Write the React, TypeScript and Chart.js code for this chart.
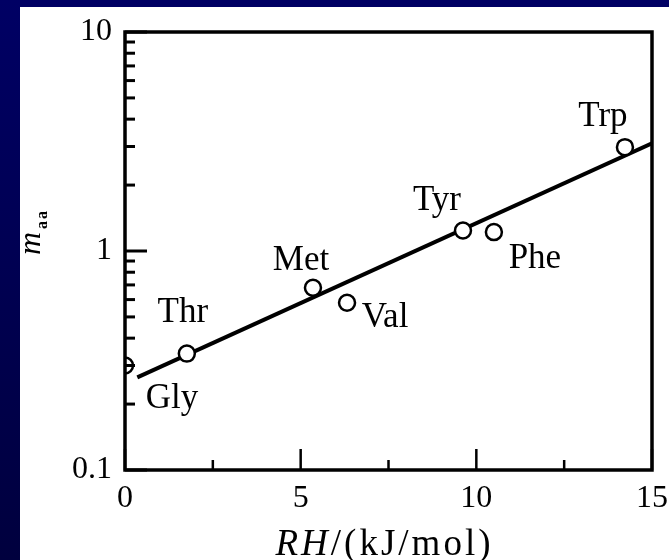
import React, { useEffect, useRef } from 'react';
import { Chart, registerables } from 'chart.js';

Chart.register(...registerables);

// ---- data ----
const aminoAcids = ['Gly', 'Thr', 'Met', 'Val', 'Tyr', 'Phe', 'Trp'];
const rhValues = [0, 1.76, 5.35, 6.32, 9.62, 10.5, 14.23];
const mValues = [0.3, 0.34, 0.68, 0.58, 1.24, 1.22, 2.98];
const fitRh = [0.35, 15];
const fitM = [0.265, 3.1];
const xMajorTicks = [0, 5, 10, 15];
const xMinorTicks = [2.5, 7.5, 12.5];
const yMajorTicks = [0.1, 1, 10];
const yMinorTicks = [0.2, 0.3, 0.4, 0.5, 0.6, 0.7, 0.8, 0.9, 2, 3, 4, 5, 6, 7, 8, 9];
const yTickLabels = ['0.1', '1', '10'];

// ---- styles ----
const labelOffsets = [
  [47, 33],
  [-4, -41],
  [-12, -27],
  [38, 15],
  [-26, -30],
  [41, 27],
  [-22, -30],
];
const SERIF = '"Liberation Serif", "DejaVu Serif", serif';

const decorPlugin = {
  id: 'decor',
  afterDatasetsDraw(chart: any) {
    const { ctx, chartArea: a, scales } = chart;
    const xs = scales.x;
    const ys = scales.y;
    ctx.save();
    ctx.strokeStyle = '#000';
    ctx.lineCap = 'butt';
    // inner ticks
    ctx.lineWidth = 3;
    yMinorTicks.forEach((v) => {
      const py = ys.getPixelForValue(v);
      ctx.beginPath();
      ctx.moveTo(a.left, py);
      ctx.lineTo(a.left + 10, py);
      ctx.stroke();
    });
    yMajorTicks.forEach((v) => {
      const py = ys.getPixelForValue(v);
      ctx.beginPath();
      ctx.moveTo(a.left, py);
      ctx.lineTo(a.left + 22, py);
      ctx.stroke();
    });
    ctx.lineWidth = 2.5;
    xMinorTicks.forEach((v) => {
      const px = xs.getPixelForValue(v);
      ctx.beginPath();
      ctx.moveTo(px, a.bottom);
      ctx.lineTo(px, a.bottom - 10);
      ctx.stroke();
    });
    xMajorTicks.forEach((v) => {
      const px = xs.getPixelForValue(v);
      ctx.beginPath();
      ctx.moveTo(px, a.bottom);
      ctx.lineTo(px, a.bottom - 21);
      ctx.stroke();
    });
    // frame
    ctx.lineWidth = 3.5;
    ctx.strokeRect(a.left, a.top, a.right - a.left, a.bottom - a.top);

    // point labels
    ctx.fillStyle = '#000';
    ctx.font = `35px ${SERIF}`;
    ctx.textAlign = 'center';
    ctx.textBaseline = 'middle';
    const meta = chart.getDatasetMeta(0);
    meta.data.forEach((el: any, i: number) => {
      const [dx, dy] = labelOffsets[i];
      ctx.fillText(aminoAcids[i], el.x + dx, el.y + dy);
    });

    // x axis title: RH/(kJ/mol)
    ctx.textBaseline = 'middle';
    ctx.textAlign = 'left';
    (ctx as any).letterSpacing = '3px';
    const part1 = 'RH';
    const part2 = '/(kJ/mol)';
    ctx.font = `italic 37px ${SERIF}`;
    const w1 = ctx.measureText(part1).width;
    ctx.font = `37px ${SERIF}`;
    const w2 = ctx.measureText(part2).width;
    const cx = (a.left + a.right) / 2 - 4;
    const startX = cx - (w1 + w2) / 2;
    const ty = 538;
    ctx.font = `italic 37px ${SERIF}`;
    ctx.fillText(part1, startX, ty);
    ctx.font = `37px ${SERIF}`;
    ctx.fillText(part2, startX + w1, ty);
    (ctx as any).letterSpacing = '0px';

    // y axis title: m_aa (rotated)
    ctx.save();
    ctx.translate(20, 248);
    ctx.rotate(-Math.PI / 2);
    ctx.textBaseline = 'alphabetic';
    ctx.textAlign = 'left';
    ctx.font = `italic 32px ${SERIF}`;
    ctx.fillText('m', 0, 0);
    const mw = ctx.measureText('m').width;
    ctx.font = `bold 16px ${SERIF}`;
    (ctx as any).letterSpacing = '2px';
    ctx.fillText('aa', mw + 3, 7);
    (ctx as any).letterSpacing = '0px';
    ctx.restore();

    ctx.restore();
  },
};

export default function App() {
  const canvasRef = useRef<HTMLCanvasElement | null>(null);

  useEffect(() => {
    if (!canvasRef.current) return;
    const points = rhValues.map((x, i) => ({ x, y: mValues[i] }));
    const fit = fitRh.map((x, i) => ({ x, y: fitM[i] }));
    const chart = new Chart(canvasRef.current, {
      type: 'scatter',
      data: {
        datasets: [
          {
            data: points,
            showLine: false,
            pointRadius: 8,
            pointBorderWidth: 2.5,
            pointBackgroundColor: '#fff',
            pointBorderColor: '#000',
            clip: 0,
          } as any,
          {
            data: fit,
            showLine: true,
            pointRadius: 0,
            borderWidth: 4,
            borderColor: '#000',
            fill: false,
          } as any,
        ],
      },
      options: {
        animation: false,
        responsive: false,
        devicePixelRatio: 1,
        layout: { padding: { left: 0, top: 25, right: 17, bottom: 0 } },
        plugins: {
          legend: { display: false },
          tooltip: { enabled: false },
          title: { display: false },
        },
        scales: {
          x: {
            type: 'linear',
            min: 0,
            max: 15,
            grid: { display: false },
            border: { display: false },
            afterBuildTicks: (scale: any) => {
              scale.ticks = xMajorTicks.map((v) => ({ value: v }));
            },
            afterFit: (scale: any) => {
              scale.height = 90;
            },
            ticks: {
              color: '#000',
              padding: 1,
              maxRotation: 0,
              font: { family: SERIF, size: 32 },
              callback: (v: any) => String(v),
            },
          },
          y: {
            type: 'logarithmic',
            min: 0.1,
            max: 10,
            grid: { display: false },
            border: { display: false },
            afterBuildTicks: (scale: any) => {
              scale.ticks = yMajorTicks.map((v) => ({ value: v }));
            },
            afterFit: (scale: any) => {
              scale.width = 105;
            },
            ticks: {
              color: '#000',
              padding: 5,
              autoSkip: false,
              font: { family: SERIF, size: 32 },
              callback: (v: any) => {
                const idx = yMajorTicks.indexOf(Number(v));
                return idx >= 0 ? yTickLabels[idx] : '';
              },
            },
          },
        },
      } as any,
      plugins: [decorPlugin],
    });
    return () => chart.destroy();
  }, []);

  return (
    <div
      style={{
        position: 'fixed',
        left: 0,
        top: 0,
        width: 669,
        height: 560,
        background: 'linear-gradient(#000064, #00003e)',
        overflow: 'hidden',
      }}
    >
      <div
        style={{
          position: 'absolute',
          left: 20,
          top: 7,
          width: 649,
          height: 553,
          background: '#fff',
        }}
      >
        <canvas ref={canvasRef} width={649} height={553} style={{ display: 'block' }} />
      </div>
    </div>
  );
}
